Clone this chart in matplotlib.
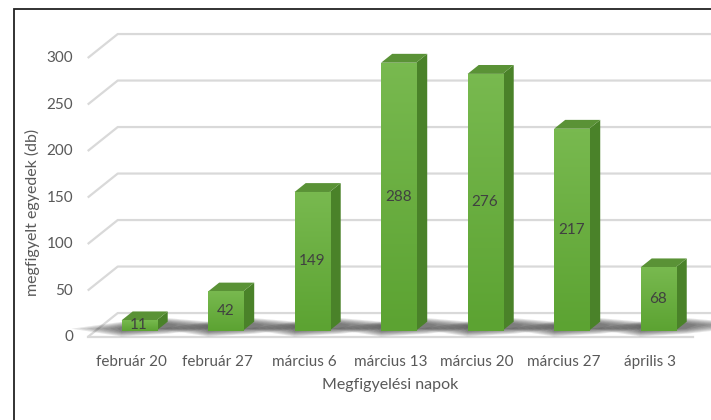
import numpy as np
import matplotlib
matplotlib.use("Agg")
import matplotlib.pyplot as plt
from matplotlib.patches import Polygon, Rectangle
from matplotlib.colors import LinearSegmentedColormap

days = ["február 20", "február 27", "március 6", "március 13",
        "március 20", "március 27", "április 3"]
counts = [11, 42, 149, 288, 276, 217, 68]
yticks = [0, 50, 100, 150, 200, 250, 300]

plt.rcParams['font.family'] = ['Lato', 'DejaVu Sans']

# oblique "3d" look: depth vector of the floor in data units (categories, counts)
depth_x, depth_y = 0.347, 25.8
bar_front, bar_back = 0.27, 0.64   # depth fractions of bar faces
bar_w = 0.405

fig = plt.figure(figsize=(7.11, 4.20), dpi=100)
ax = fig.add_axes([0, 0, 1, 1])
ax.axis('off')

n = len(days)
left, right = -0.5, n - 0.5
grid_c = '#d9d9d9'
txt_c = '#595959'

# back wall gridlines + left wall slant
for v in yticks:
    ax.plot([left, left + depth_x, right + 2], [v, v + depth_y, v + depth_y],
            color=grid_c, lw=1.6, zorder=1, solid_capstyle='butt')
    ax.text(left - 0.17, v, str(v), ha='right', va='center', fontsize=11,
            color=txt_c)
# floor front edge
ax.plot([left, right], [0, 0], color=grid_c, lw=1.6, zorder=1)

green = LinearSegmentedColormap.from_list('g', ['#5ca332', '#78b94f'])
dx_f, dy_f = bar_front * depth_x, bar_front * depth_y
ddx, ddy = (bar_back - bar_front) * depth_x, (bar_back - bar_front) * depth_y

for i, v in enumerate(counts):
    x0 = i + dx_f - bar_w / 2
    x1 = x0 + bar_w
    b0 = dy_f
    top = b0 + v
    # soft shadow on the floor, thickest at the bar base
    for k in range(7):
        s = k * 0.022
        t = k * 0.9
        ax.add_patch(Polygon([(x0 - 0.05 - s * 4, b0 + 2),
                              (x0, b0 - 1 - t), (x1 + ddx, b0 + 2 - t),
                              (x1 + ddx + 0.12 + s * 6, b0 + 6),
                              (x1 + ddx, b0 + 8 + t), (x0, b0 + 4 + t)],
                             closed=True, fc='#1a1a1a', ec='none', alpha=0.11, zorder=2))
    # front face with gradient
    grad = np.linspace(0, 1, 50).reshape(-1, 1)
    ax.imshow(grad, cmap=green, origin='lower', extent=(x0, x1, b0, top),
              aspect='auto', interpolation='bilinear', zorder=4)
    # side face
    ax.add_patch(Polygon([(x1, b0), (x1 + ddx, b0 + ddy), (x1 + ddx, top + ddy), (x1, top)],
                         closed=True, fc='#4a8229', ec='none', zorder=3))
    # top face
    ax.add_patch(Polygon([(x0, top), (x1, top), (x1 + ddx, top + ddy), (x0 + ddx, top + ddy)],
                         closed=True, fc='#5a9236', ec='none', zorder=3))
    ax.text((x0 + x1) / 2, b0 + v / 2, str(v), ha='center', va='center',
            fontsize=11, color='#404040', zorder=5)
    ax.text(i, -27, days[i], ha='center', va='center', fontsize=11, color=txt_c)

ax.set_xlim(-1.514, 6.705)
ax.set_ylim(-89.2, 362.4)

ax.text(3, -52, "Megfigyelési napok", ha='center', va='center', fontsize=11.5,
        color=txt_c)
ax.text(-1.14, 134, "megfigyelt egyedek (db)", ha='center', va='center',
        rotation=90, fontsize=11.5, color=txt_c)

# picture frame, only left and top visible
fig.add_artist(Rectangle((14 / 711, -0.2), 2, 1.2 - 9 / 420, transform=fig.transFigure,
                         fill=False, ec='#222222', lw=1.3))

fig.savefig("out.png", dpi=100)
